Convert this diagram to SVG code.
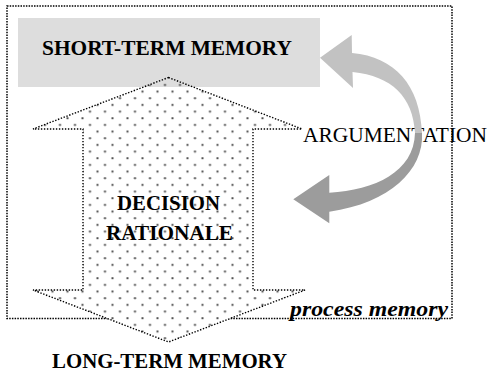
<svg xmlns="http://www.w3.org/2000/svg" width="487" height="374" viewBox="0 0 487 374">
<style>
.t{font-family:'Liberation Serif','DejaVu Serif',serif;fill:#000}
.b{font-weight:bold;font-size:21px}
.dotline{fill:none;stroke:#000;stroke-width:1.5;stroke-dasharray:1.5 1.2}
.arrowline{stroke:#000;stroke-width:1.4;stroke-dasharray:1.4 1.6}
</style>
<defs>
<pattern id="dots" patternUnits="userSpaceOnUse" x="-7.5" y="0" width="15" height="13.33">
<circle cx="7.5" cy="5" r="1.1" fill="#4a4a4a"/>
<circle cx="0" cy="11.67" r="1.1" fill="#4a4a4a"/>
<circle cx="15" cy="11.67" r="1.1" fill="#4a4a4a"/>
</pattern>
</defs>
<rect width="487" height="374" fill="#fff"/>
<g id="process-memory">
<rect class="dotline" x="7" y="6" width="445" height="312.5"/>
</g>
<g id="decision-rationale-bg">
<polygon fill="#fff" points="168.5,77.5 302,129 253,129 253,290 305,290 168.5,342 33,290 83,290 83,129 33,129"/>
</g>
<g id="short-term-memory">
<rect x="18" y="18" width="302" height="69" fill="#dddddd"/>
<text class="t b" font-family="Liberation Serif, serif" x="167" y="55" text-anchor="middle" textLength="250" lengthAdjust="spacingAndGlyphs">SHORT-TERM MEMORY</text>
</g>
<g id="decision-rationale">
<polygon fill="url(#dots)" class="arrowline" points="168.5,77.5 302,129 253,129 253,290 305,290 168.5,342 33,290 83,290 83,129 33,129"/>
<text class="t b" font-family="Liberation Serif, serif" x="168.5" y="210" text-anchor="middle" textLength="103" lengthAdjust="spacingAndGlyphs">DECISION</text>
<text class="t b" font-family="Liberation Serif, serif" x="169.5" y="240" text-anchor="middle" textLength="127" lengthAdjust="spacingAndGlyphs">RATIONALE</text>
</g>
<g id="process-memory-label">
<text class="t" font-family="Liberation Serif, serif" x="290" y="316" font-size="22" font-weight="bold" font-style="italic" textLength="158" lengthAdjust="spacingAndGlyphs">process memory</text>
</g>
<g id="long-term-memory">
<text class="t b" font-family="Liberation Serif, serif" x="169.5" y="368" text-anchor="middle" textLength="235" lengthAdjust="spacingAndGlyphs">LONG-TERM MEMORY</text>
</g>
<g id="argumentation">
<text class="t" font-family="Liberation Serif, serif" x="303" y="141.5" font-size="21" textLength="184" lengthAdjust="spacingAndGlyphs">ARGUMENTATION</text>
</g>
<g id="connectors">
<path fill="#c2c2c2" d="M 320,57.7 L 351.7,35 L 352,53 C 395,57 420,85 422,133 L 415,133 C 413,97 392,76 352.5,72 L 353,88 Z"/>
<path fill="#9c9c9c" d="M 422,133 C 424,170 390,203 329.3,211.7 L 329.3,223.3 L 293.3,199.3 L 329.3,175 L 329.3,192.7 C 375,190 414,172 415,133 Z"/>
</g>
</svg>
